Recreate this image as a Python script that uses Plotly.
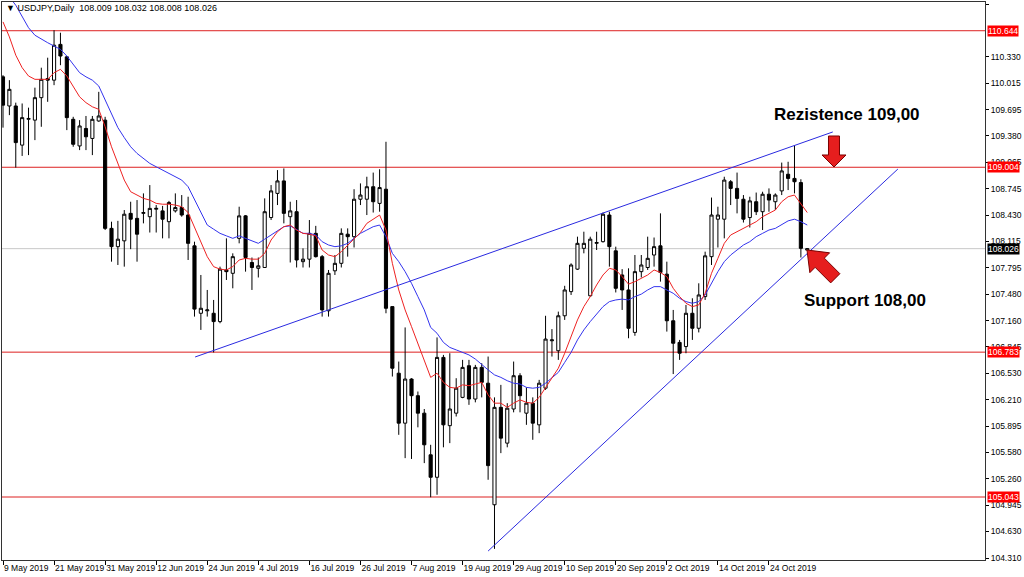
import plotly.graph_objects as go

# ---------------- data ----------------
opens = [110.09,109.74,109.74,109.27,109.58,109.57,109.84,110.07,110.05,110.48,
         110.33,109.58,109.26,109.47,109.35,109.56,109.57,108.27,108.05,108.12,
         108.45,108.39,108.45,108.41,108.50,108.48,108.35,108.48,108.52,108.43,
         108.06,107.25,107.28,107.25,107.15,107.77,107.73,108.15,108.42,107.86,
         107.79,107.80,108.40,108.69,108.84,108.41,108.47,107.87,107.90,108.21,
         107.93,107.28,107.76,107.85,108.20,108.17,108.62,108.62,108.77,108.57,
         108.74,107.33,106.53,105.93,106.46,106.26,106.05,105.55,105.28,106.72,
         105.90,106.05,106.24,106.62,106.22,106.60,106.41,104.95,106.12,105.69,
         106.10,106.50,106.05,106.17,105.91,106.35,106.92,106.80,107.22,107.51,
         107.78,108.03,107.46,108.09,108.11,108.43,108.00,107.71,107.53,107.02,
         107.75,107.80,107.95,108.06,107.72,107.16,106.90,106.85,107.25,107.07,
         107.45,107.93,108.38,108.38,108.83,108.75,108.62,108.40,108.59,108.47,
         108.68,108.59,108.72,108.92,108.87,108.82,108.009]
highs = [110.11,110.05,109.78,109.77,109.72,109.96,110.20,110.32,110.65,110.62,
         110.34,109.61,109.57,109.62,109.62,109.91,109.61,108.35,108.36,108.49,
         108.59,108.61,108.69,108.79,108.55,108.54,108.60,108.69,108.67,108.65,
         108.11,107.71,107.53,107.41,107.81,108.15,107.97,108.53,108.43,107.92,
         107.92,108.63,108.79,108.97,108.99,108.59,108.61,108.03,108.37,108.30,
         107.95,107.77,107.95,108.27,108.27,108.74,108.81,108.89,108.94,108.98,
         109.31,107.33,106.67,107.08,106.47,106.31,106.10,105.67,106.96,106.75,
         106.77,106.47,106.69,106.69,106.63,106.65,106.73,106.24,106.39,106.17,
         106.67,106.53,106.36,106.24,106.45,107.22,107.06,107.27,107.58,107.85,
         108.17,108.23,108.17,108.23,108.46,108.47,108.05,107.78,107.79,107.95,
         107.95,108.17,108.16,108.45,107.87,107.29,106.93,107.35,107.43,107.61,
         107.99,108.64,108.53,108.89,108.85,108.94,108.67,108.65,108.70,108.71,
         108.75,108.69,109.06,109.07,109.27,108.86,108.032]
lows = [109.48,109.63,109.00,109.14,109.15,109.33,109.49,109.79,109.99,110.23,
        109.45,109.25,109.21,109.21,109.15,109.55,108.25,107.87,107.83,107.81,
        108.02,107.87,108.33,108.22,108.22,108.15,108.15,108.46,108.41,107.89,
        107.21,107.05,107.21,106.78,107.13,107.65,107.55,108.09,107.75,107.53,
        107.68,107.80,108.37,108.55,108.33,107.86,107.80,107.80,107.80,107.92,
        107.21,107.21,107.71,107.80,107.93,108.04,108.55,108.43,108.46,108.47,
        107.25,106.49,105.79,105.51,105.50,105.88,105.45,105.04,105.07,105.64,
        105.69,106.01,106.23,106.15,106.18,106.24,105.25,104.42,105.57,105.64,
        106.06,106.06,105.91,105.73,105.81,106.33,106.73,106.69,107.17,107.47,
        107.77,107.97,107.45,108.01,108.10,107.81,107.50,107.29,106.95,106.98,
        107.68,107.77,107.81,107.63,107.03,106.52,106.69,106.77,106.93,107.02,
        107.41,107.83,108.04,108.15,108.55,108.45,108.34,108.28,108.43,108.25,
        108.47,108.49,108.67,108.73,108.69,107.92,108.008]
closes = [109.75,109.94,109.30,109.60,109.59,109.84,110.06,110.05,110.47,110.34,
          109.60,109.28,109.50,109.37,109.58,109.62,108.27,108.05,108.14,108.44,
          108.38,108.20,108.46,108.51,108.51,108.38,108.58,108.52,108.43,108.09,
          107.30,107.31,107.29,107.15,107.78,107.75,107.93,108.42,107.92,107.80,
          107.82,108.47,108.72,108.84,108.45,108.48,107.89,107.90,108.21,107.93,
          107.29,107.73,107.85,108.21,108.17,108.62,108.67,108.77,108.59,108.76,
          107.31,106.59,105.93,106.46,106.26,106.05,105.67,105.28,106.72,105.91,
          106.10,106.35,106.60,106.22,106.60,106.42,105.42,106.12,105.75,106.11,
          106.50,106.26,106.17,105.93,106.41,106.94,106.93,107.22,107.53,107.83,
          108.09,108.09,108.14,108.10,108.44,108.05,107.55,107.53,107.07,107.75,
          107.83,107.91,108.05,107.74,107.16,106.89,106.77,107.25,107.07,107.47,
          107.94,108.43,108.43,108.85,108.75,108.63,108.38,108.60,108.47,108.68,
          108.61,108.67,108.96,108.87,108.83,108.03,108.026]

ma_fast = [110.75,110.57,110.35,110.20,110.10,110.06,110.06,110.06,110.14,110.18,
           110.10,109.97,109.85,109.78,109.73,109.70,109.49,109.25,109.05,108.85,
           108.71,108.67,108.63,108.61,108.57,108.56,108.56,108.55,108.53,108.46,
           108.28,108.09,107.93,107.81,107.78,107.77,107.81,107.89,107.91,107.90,
           107.90,107.97,108.13,108.23,108.29,108.31,108.25,108.21,108.20,108.18,
           108.01,107.95,107.93,107.99,108.07,108.15,108.22,108.33,108.38,108.43,
           108.25,107.85,107.53,107.29,107.09,106.89,106.69,106.48,106.53,106.42,
           106.36,106.35,106.39,106.38,106.40,106.42,106.27,106.17,106.17,106.12,
           106.17,106.21,106.18,106.17,106.24,106.36,106.47,106.59,106.77,106.96,
           107.17,107.33,107.45,107.59,107.71,107.79,107.77,107.69,107.60,107.63,
           107.67,107.71,107.77,107.74,107.69,107.55,107.45,107.37,107.33,107.35,
           107.49,107.73,107.91,108.09,108.19,108.23,108.26,108.31,108.35,108.41,
           108.45,108.49,108.59,108.65,108.67,108.56,108.46]
ma_slow = [111.13,111.05,110.95,110.81,110.68,110.59,110.54,110.50,110.46,110.42,
           110.34,110.24,110.14,110.09,110.05,109.98,109.81,109.63,109.48,109.36,
           109.25,109.17,109.11,109.05,109.01,108.97,108.93,108.90,108.85,108.77,
           108.61,108.45,108.31,108.26,108.21,108.18,108.15,108.18,108.15,108.12,
           108.09,108.14,108.19,108.24,108.29,108.30,108.25,108.21,108.21,108.19,
           108.11,108.07,108.05,108.06,108.09,108.15,108.21,108.25,108.29,108.31,
           108.17,107.97,107.87,107.75,107.61,107.45,107.29,107.08,107.01,106.90,
           106.84,106.81,106.78,106.75,106.70,106.63,106.57,106.51,106.48,106.44,
           106.41,106.40,106.36,106.35,106.36,106.41,106.47,106.54,106.66,106.78,
           106.93,107.05,107.15,107.24,107.33,107.39,107.41,107.42,107.41,107.45,
           107.48,107.53,107.57,107.57,107.53,107.49,107.43,107.39,107.37,107.39,
           107.47,107.61,107.75,107.87,107.95,108.01,108.07,108.11,108.17,108.21,
           108.25,108.27,108.32,108.36,108.38,108.35,108.31]

tick_idx = [0, 8, 16, 24, 32, 40, 48, 56, 64, 72, 80, 88, 96, 104, 112, 120]
tick_dates = ["9 May 2019", "21 May 2019", "31 May 2019", "12 Jun 2019", "24 Jun 2019",
              "4 Jul 2019", "16 Jul 2019", "26 Jul 2019", "7 Aug 2019", "19 Aug 2019",
              "29 Aug 2019", "10 Sep 2019", "20 Sep 2019", "2 Oct 2019", "14 Oct 2019",
              "24 Oct 2019"]
price_ticks = [110.965, 110.330, 110.015, 109.695, 109.380, 109.065, 108.745,
               108.430, 108.115, 107.795, 107.480, 107.160, 106.845, 106.530, 106.210,
               105.895, 105.580, 105.260, 104.945, 104.630, 104.310]
levels = [110.644, 109.004, 106.783, 105.043]
last_price = 108.026
trend_upper = ([30.1, 130.0], [106.725, 109.428])
trend_lower = ([76.0, 140.2], [104.394, 108.983])
title_text = "USDJPY,Daily  108.009 108.032 108.008 108.026"
res_text = "Rezistence 109,00"
sup_text = "Support 108,00"

# ---------------- figure ----------------
W, H = 1024, 577
L, R, T, B = 2, 985, 2, 560
FONT = "Liberation Sans, Arial, sans-serif"

def px(x):
    return (x - L) / (R - L)

def py(y):
    return (B - y) / (B - T)

x = list(range(len(opens)))
fig = go.Figure()
fig.add_trace(go.Candlestick(
    x=x, open=opens, high=highs, low=lows, close=closes,
    increasing=dict(fillcolor="white", line=dict(color="black", width=1)),
    decreasing=dict(fillcolor="black", line=dict(color="black", width=1)),
    whiskerwidth=0, showlegend=False, hoverinfo="skip"))
fig.add_trace(go.Scatter(x=x, y=ma_slow, mode="lines",
                         line=dict(color="#3333ee", width=1), showlegend=False, hoverinfo="skip"))
fig.add_trace(go.Scatter(x=x, y=ma_fast, mode="lines",
                         line=dict(color="#ee2222", width=1), showlegend=False, hoverinfo="skip"))
for tx, ty in (trend_upper, trend_lower):
    fig.add_trace(go.Scatter(x=tx, y=ty, mode="lines",
                             line=dict(color="#2a2ae0", width=1), showlegend=False, hoverinfo="skip"))

shapes = []
for lv in levels:
    shapes.append(dict(type="line", xref="paper", yref="y", x0=0, x1=1, y0=lv, y1=lv,
                       line=dict(color="#dd2020", width=1), layer="below"))
shapes.append(dict(type="line", xref="paper", yref="y", x0=0, x1=1, y0=last_price, y1=last_price,
                   line=dict(color="#c8c8c8", width=1), layer="below"))

def arrow(tip, d, length, hl, hw, sw):
    import math
    n = math.hypot(*d)
    dx, dy = d[0] / n, d[1] / n
    nx, ny = -dy, dx
    tx, ty = tip
    pts = [(tx, ty),
           (tx - dx * hl + nx * hw, ty - dy * hl + ny * hw),
           (tx - dx * hl + nx * sw, ty - dy * hl + ny * sw),
           (tx - dx * length + nx * sw, ty - dy * length + ny * sw),
           (tx - dx * length - nx * sw, ty - dy * length - ny * sw),
           (tx - dx * hl - nx * sw, ty - dy * hl - ny * sw),
           (tx - dx * hl - nx * hw, ty - dy * hl - ny * hw)]
    path = "M " + " L ".join(f"{px(a):.5f},{py(b):.5f}" for a, b in pts) + " Z"
    return dict(type="path", xref="paper", yref="paper", path=path,
                fillcolor="#e61e1e", line=dict(color="#7a0000", width=1))

shapes.append(arrow((834, 167), (0, 1), 31, 12, 12, 5.5))
shapes.append(arrow((807, 250), (-1, -1), 40, 18, 14, 6.5))

ann = []
for lv in levels:
    ann.append(dict(xref="paper", yref="y", x=1, y=lv, xanchor="left", yanchor="middle",
                    xshift=2, text=f"{lv:.3f}", showarrow=False, bgcolor="#ff0000",
                    font=dict(family=FONT, size=8.5, color="white"), borderpad=0))
ann.append(dict(xref="paper", yref="y", x=1, y=last_price, xanchor="left", yanchor="middle",
                xshift=2, text=f"{last_price:.3f}", showarrow=False, bgcolor="black",
                font=dict(family=FONT, size=8.5, color="white"), borderpad=0))
ann.append(dict(xref="paper", yref="paper", x=px(4), y=py(8), xanchor="left", yanchor="middle",
                text="\u25BC " + title_text, showarrow=False,
                font=dict(family=FONT, size=9, color="black")))
ann.append(dict(xref="paper", yref="paper", x=px(847), y=py(114), xanchor="center", yanchor="middle",
                text="<b>" + res_text + "</b>", showarrow=False,
                font=dict(family=FONT, size=17, color="black")))
ann.append(dict(xref="paper", yref="paper", x=px(865), y=py(300), xanchor="center", yanchor="middle",
                text="<b>" + sup_text + "</b>", showarrow=False,
                font=dict(family=FONT, size=17, color="black")))

bar_px = 6.383
x0 = (L - 3) / bar_px
x1 = (R - 3) / bar_px
def ypx_to_price(yp):
    return 110.965 - (yp - 4) / 83.25

fig.update_layout(
    width=W, height=H,
    margin=dict(l=L, r=W - R, t=T, b=H - B, autoexpand=False),
    paper_bgcolor="white", plot_bgcolor="white",
    shapes=shapes, annotations=ann,
    font=dict(family=FONT, size=9, color="black"),
    xaxis=dict(range=[x0, x1], rangeslider=dict(visible=False), showgrid=False, zeroline=False,
               automargin=False, tickangle=0,
               tickmode="array", tickvals=tick_idx, ticktext=tick_dates,
               ticks="outside", ticklen=4, tickcolor="black", ticklabelposition="outside right",
               showline=True, linecolor="#333333", linewidth=1, mirror=True,
               tickfont=dict(family=FONT, size=8.5, color="black")),
    yaxis=dict(range=[ypx_to_price(B), ypx_to_price(T)], side="right", showgrid=False, zeroline=False,
               automargin=False,
               tickmode="array", tickvals=price_ticks, ticktext=[f"{v:.3f}" for v in price_ticks],
               ticks="outside", ticklen=3, tickcolor="black",
               showline=True, linecolor="#333333", linewidth=1, mirror=True,
               tickfont=dict(family=FONT, size=8.5, color="black")),
)
fig.write_html("out.html", config={"displayModeBar": False},
               post_script="document.body.style.margin='0';document.body.style.overflow='hidden';")
